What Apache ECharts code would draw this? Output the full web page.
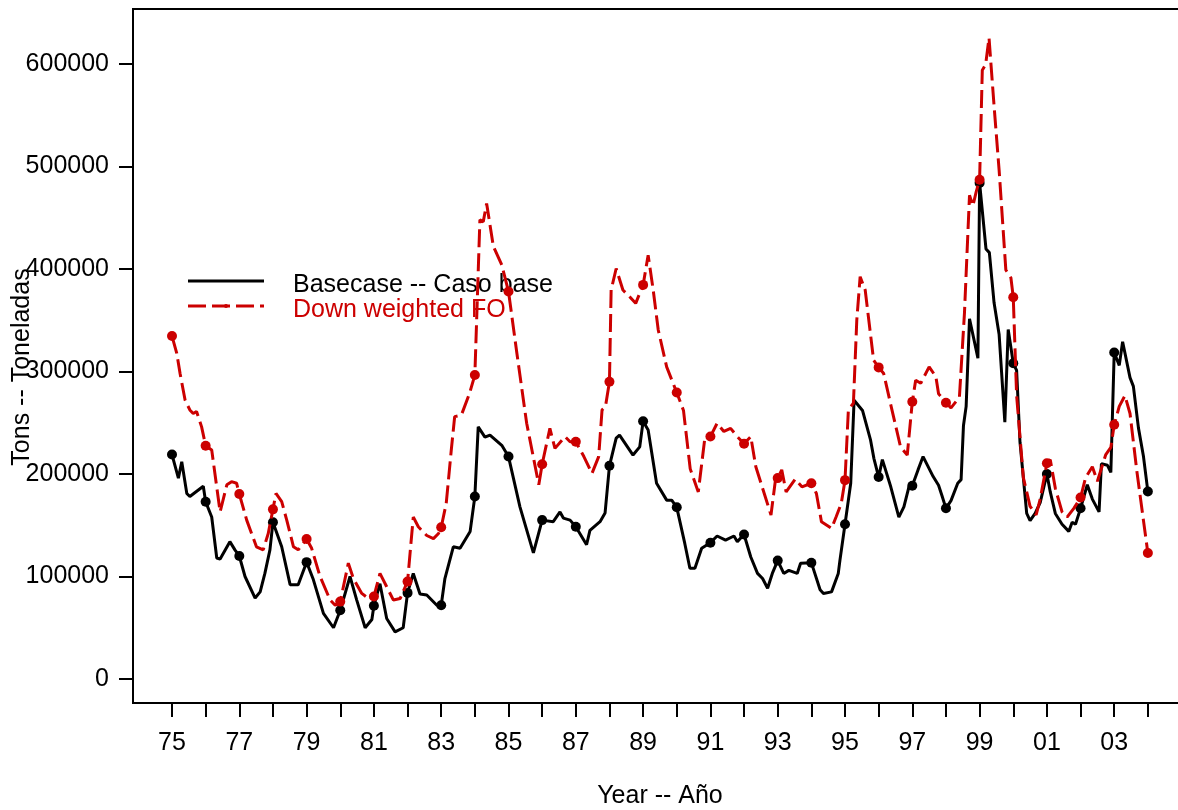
<!DOCTYPE html>
<html>
<head>
<meta charset="utf-8">
<script src="https://cdn.jsdelivr.net/npm/echarts@6/dist/echarts.min.js"></script>
<style>
html,body{margin:0;padding:0;background:#fff;}
#c{width:1178px;height:810px;}
</style>
</head>
<body>
<div id="c"></div>
<script>
// ---- data ----
const baseYears = [
1975.00,1975.19,1975.29,1975.44,1975.53,1975.93,1976.00,1976.18,1976.33,1976.43,1976.72,1976.87,
1977.00,1977.17,1977.47,1977.62,1977.76,1977.91,1978.00,1978.26,1978.51,1978.75,1979.00,1979.20,
1979.50,1979.80,1980.00,1980.29,1980.49,1980.74,1980.94,1981.00,1981.18,1981.38,1981.63,1981.87,
1982.00,1982.17,1982.37,1982.57,1982.87,1983.00,1983.11,1983.36,1983.56,1983.86,1984.00,1984.10,
1984.30,1984.45,1984.80,1985.00,1985.34,1985.74,1986.00,1986.33,1986.53,1986.63,1986.83,1987.00,
1987.32,1987.42,1987.72,1987.87,1988.00,1988.20,1988.30,1988.70,1988.90,1989.00,1989.15,1989.40,
1989.70,1989.85,1990.00,1990.24,1990.39,1990.54,1990.74,1991.00,1991.20,1991.45,1991.70,1991.80,
1992.00,1992.20,1992.40,1992.55,1992.70,1992.84,1993.00,1993.18,1993.33,1993.58,1993.68,1994.00,
1994.26,1994.36,1994.60,1994.80,1994.85,1995.00,1995.17,1995.27,1995.52,1995.76,1995.86,1996.00,
1996.11,1996.36,1996.60,1996.75,1996.90,1997.00,1997.17,1997.32,1997.62,1997.78,1997.88,1998.00,
1998.15,1998.35,1998.45,1998.52,1998.60,1998.70,1998.95,1999.00,1999.19,1999.29,1999.43,1999.58,
1999.75,1999.85,2000.00,2000.10,2000.20,2000.40,2000.50,2000.65,2000.80,2001.00,2001.10,2001.25,
2001.45,2001.65,2001.75,2001.85,2002.00,2002.20,2002.35,2002.55,2002.62,2002.80,2002.90,2003.00,
2003.15,2003.25,2003.47,2003.57,2003.72,2003.87,2004.00
];
const baseTons = [
219000,196000,212000,181000,178000,188000,173000,158000,118000,117000,134000,126000,
120000,100000,79000,85000,103000,126000,153000,129000,92000,92000,114000,97000,
64000,50000,67000,100000,77000,50000,58000,71500,93000,59000,46000,50000,
84000,103000,83000,82000,72000,72000,98000,129000,127500,144000,178000,246000,
236000,238000,228000,217000,168000,123000,155000,153500,163000,157000,155000,148500,
131000,145000,153500,162000,208000,235000,238000,218500,226500,251500,243000,191000,
174500,174500,167500,132000,108000,108000,127500,133000,139500,135500,139500,134000,
141000,119000,103000,98000,88500,103000,115500,103000,106000,103000,113000,113500,
87000,83500,85000,103000,116000,151000,191000,272000,262000,233000,215000,197000,
214000,187500,158000,168000,187500,188500,204000,217000,197500,189000,179000,166500,
174000,191000,194500,247000,266000,351500,313000,484000,419500,416000,367000,336000,
250500,341000,308000,301000,231000,161500,154500,161500,172000,200000,182500,161500,
151000,144000,153000,151000,166500,189500,175500,163000,210000,208500,201500,318500,
306000,329000,294000,285500,245000,217000,183000
];
const downYears = [
1975.00,1975.14,1975.24,1975.39,1975.53,1975.63,1975.73,1975.88,1976.00,1976.18,1976.43,1976.63,
1976.77,1976.92,1977.00,1977.22,1977.51,1977.71,1977.86,1978.00,1978.09,1978.26,1978.41,1978.61,
1978.75,1979.00,1979.15,1979.40,1979.70,1979.85,1980.00,1980.24,1980.39,1980.64,1980.84,1981.00,
1981.18,1981.38,1981.58,1981.78,1982.00,1982.17,1982.32,1982.57,1982.77,1982.92,1983.00,1983.15,
1983.30,1983.40,1983.60,1983.84,1984.00,1984.15,1984.25,1984.35,1984.55,1984.80,1985.00,1985.25,
1985.54,1985.90,1986.00,1986.23,1986.38,1986.68,1986.83,1987.00,1987.24,1987.48,1987.68,1987.78,
1987.88,1988.00,1988.05,1988.20,1988.40,1988.60,1988.78,1989.00,1989.15,1989.30,1989.45,1989.70,
1990.00,1990.20,1990.40,1990.64,1990.84,1991.00,1991.20,1991.40,1991.60,1991.80,1992.00,1992.20,
1992.35,1992.60,1992.80,1992.94,1993.00,1993.12,1993.25,1993.52,1993.72,1994.00,1994.15,1994.30,
1994.60,1994.74,1994.89,1995.00,1995.10,1995.25,1995.35,1995.45,1995.60,1995.85,1996.00,1996.15,
1996.35,1996.65,1996.85,1997.00,1997.10,1997.25,1997.50,1997.70,1997.78,1997.95,1998.00,1998.15,
1998.40,1998.55,1998.70,1998.80,1998.90,1999.00,1999.08,1999.18,1999.28,1999.43,1999.58,1999.78,
1999.93,2000.00,2000.10,2000.30,2000.50,2000.68,2000.80,2001.00,2001.10,2001.25,2001.45,2001.60,
2001.80,2002.00,2002.15,2002.35,2002.50,2002.75,2002.90,2003.00,2003.15,2003.32,2003.47,2003.67,
2003.87,2004.00
];
const downTons = [
334600,318000,298000,272000,262500,259000,261000,246000,227500,223500,163000,189500,
192500,191000,180500,155000,129000,126000,142000,165500,181000,173000,155000,129000,
126000,136500,127500,100000,77000,72000,75500,113000,98000,83500,78500,80500,
103000,90000,77000,78500,95000,158000,148500,140000,137000,142000,148000,171500,
223500,256000,257500,278500,296500,448000,446000,464000,422000,404000,378000,317500,
249500,189500,209500,244500,225000,236500,231500,231500,217000,200500,217000,262500,
265500,290000,379500,400500,379500,373000,366500,384500,413500,379500,340500,304500,
279500,262000,205000,182500,236500,236500,249500,241500,244500,236500,229500,236500,
207000,181000,160000,196000,196000,204000,182500,195000,187500,191000,181000,153500,
147000,158500,171500,194000,262500,269000,350000,392500,379500,311000,304000,298000,
269000,226500,218500,270500,291500,288500,304500,295000,278300,272000,269500,264500,
275000,357000,472000,461500,475500,487000,594000,599500,625500,559000,496500,399000,
391500,372500,276500,196500,168500,160000,175500,210500,214000,186000,163000,158000,
166500,177000,196500,207000,193000,219000,226000,248000,266000,276500,259000,203500,
154500,123000
];
const xTickYears = [1975,1976,1977,1978,1979,1980,1981,1982,1983,1984,1985,1986,1987,1988,1989,
  1990,1991,1992,1993,1994,1995,1996,1997,1998,1999,2000,2001,2002,2003,2004];
const xLabelYears = [1975,1977,1979,1981,1983,1985,1987,1989,1991,1993,1995,1997,1999,2001,2003];
const yTicks = [0,100000,200000,300000,400000,500000,600000];

const seriesNames = ['Basecase -- Caso base', 'Down weighted FO'];
const xTitle = 'Year -- Año';
const yTitle = 'Tons -- Toneladas';

// ---- chart ----
const RED = '#CC0000';
const FONT = 'Liberation Sans, Arial, Helvetica, sans-serif';
const FS = 25;
const isYear = v => Math.abs(v - Math.round(v)) < 1e-6;
const baseData = baseYears.map((x, i) => [x, baseTons[i]]);
const downData = downYears.map((x, i) => [x, downTons[i]]);

const chart = echarts.init(document.getElementById('c'), null, {renderer: 'canvas'});
chart.setOption({
  animation: false,
  backgroundColor: '#fff',
  grid: {left: 133, top: 9, width: 1055, height: 694, show: true, containLabel: false,
         outerBoundsMode: 'none',
         borderColor: '#000', borderWidth: 2, backgroundColor: 'transparent'},
  xAxis: {
    type: 'value', min: 1973.841, max: 2005.193,
    splitLine: {show: false},
    axisLine: {show: false, onZero: false},
    axisTick: {show: true, length: 14, lineStyle: {color: '#000', width: 2}, customValues: xTickYears},
    axisLabel: {customValues: xLabelYears, color: '#000', fontSize: FS, fontFamily: FONT, margin: 28,
      formatter: v => String(Math.round(v) % 100).padStart(2, '0')}
  },
  yAxis: {
    type: 'value', min: -23415, max: 653659,
    splitLine: {show: false},
    axisLine: {show: false, onZero: false},
    axisTick: {show: true, length: 14, lineStyle: {color: '#000', width: 2}, customValues: yTicks},
    axisLabel: {customValues: yTicks, color: '#000', fontSize: FS, fontFamily: FONT, margin: 24,
      formatter: v => String(v)}
  },
  series: [
    {name: seriesNames[0], type: 'line', data: baseData, silent: true,
     showSymbol: true, symbol: 'circle', symbolSize: v => isYear(v[0]) ? 10 : 0,
     lineStyle: {color: '#000', width: 3}, itemStyle: {color: '#000'}, z: 2},
    {name: seriesNames[1], type: 'line', data: downData, silent: true,
     showSymbol: true, symbol: 'circle', symbolSize: v => isYear(v[0]) ? 10 : 0,
     lineStyle: {color: RED, width: 3, type: [18, 6]}, itemStyle: {color: RED}, z: 3}
  ],
  graphic: [
    {type: 'line', shape: {x1: 188, y1: 281, x2: 264, y2: 281}, style: {stroke: '#000', lineWidth: 3}},
    {type: 'line', shape: {x1: 188, y1: 306, x2: 264, y2: 306}, style: {stroke: RED, lineWidth: 3, lineDash: [18, 6]}},
    {type: 'circle', shape: {cx: 226, cy: 306, r: 2}, style: {fill: RED}},
    {type: 'text', x: 293, y: 285, style: {text: seriesNames[0], font: FS + 'px ' + FONT, fill: '#000',
      align: 'left', verticalAlign: 'middle', textAlign: 'left', textVerticalAlign: 'middle'}},
    {type: 'text', x: 293, y: 310, style: {text: seriesNames[1], font: FS + 'px ' + FONT, fill: RED,
      align: 'left', verticalAlign: 'middle', textAlign: 'left', textVerticalAlign: 'middle'}},
    {type: 'text', x: 660, y: 796, style: {text: xTitle, font: FS + 'px ' + FONT, fill: '#000',
      align: 'center', verticalAlign: 'middle', textAlign: 'center', textVerticalAlign: 'middle'}},
    {type: 'text', x: 22, y: 367, rotation: Math.PI / 2, style: {text: yTitle, font: FS + 'px ' + FONT, fill: '#000',
      align: 'center', verticalAlign: 'middle', textAlign: 'center', textVerticalAlign: 'middle'}}
  ]
});
</script>
</body>
</html>
